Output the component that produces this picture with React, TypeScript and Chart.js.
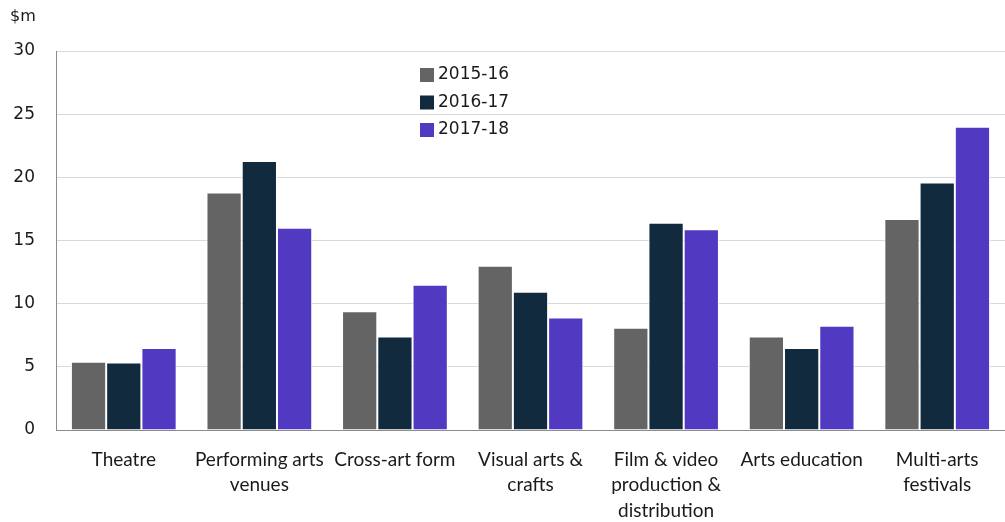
import React, { useEffect, useRef } from "react";
import { Chart, registerables } from "chart.js";

Chart.register(...registerables);

const categories: (string | string[])[] = [
  "Theatre",
  ["Performing arts", "venues"],
  "Cross-art form",
  ["Visual arts &", "crafts"],
  ["Film & video", "production &", "distribution"],
  "Arts education",
  ["Multi-arts", "festivals"],
];
const seriesLabels = ["2015-16", "2016-17", "2017-18"];
const values2015 = [5.4, 18.8, 9.4, 13.0, 8.1, 7.4, 16.7];
const values2016 = [5.35, 21.3, 7.4, 10.95, 16.4, 6.5, 19.6];
const values2017 = [6.5, 16.0, 11.5, 8.9, 15.9, 8.25, 24.0];
const colors = ["#646464", "#122a3d", "#5139c2"];
const yTicks = [0, 5, 10, 15, 20, 25, 30];
const unitLabel = "$m";

const overlayPlugin = {
  id: "overlay",
  afterDraw(chart: any) {
    const ctx = chart.ctx;
    ctx.save();
    ctx.font = "16px 'DejaVu Sans'";
    ctx.fillStyle = "#1a1a1a";
    ctx.textBaseline = "middle";
    ctx.textAlign = "left";
    ctx.fillText(unitLabel, 10, 17);
    ctx.font = "17px 'DejaVu Sans'";
    const x0 = 420;
    const y0 = 75;
    const step = 27.5;
    chart.data.datasets.forEach((ds: any, i: number) => {
      const y = y0 + i * step;
      ctx.fillStyle = ds.backgroundColor;
      ctx.fillRect(x0, y - 7, 14, 14);
      ctx.fillStyle = "#1a1a1a";
      ctx.fillText(ds.label, x0 + 18, y);
    });
    ctx.restore();
  },
};

export default function App() {
  const ref = useRef<HTMLCanvasElement>(null);
  useEffect(() => {
    if (!ref.current) return;
    const data = [values2015, values2016, values2017];
    const chart = new Chart(ref.current, {
      type: "bar",
      data: {
        labels: categories,
        datasets: seriesLabels.map((l, i) => ({
          label: l,
          data: data[i],
          backgroundColor: colors[i],
          borderColor: "#ffffff",
          borderWidth: 1,
          categoryPercentage: 0.78,
          barPercentage: 1,
        })),
      },
      options: {
        animation: false,
        responsive: true,
        maintainAspectRatio: false,
        layout: { padding: { top: 51, right: 0, left: 0, bottom: 0 } },
        plugins: {
          legend: { display: false },
          tooltip: { enabled: false },
        },
        scales: {
          x: {
            grid: { display: false, drawTicks: false },
            border: { display: true, color: "#8c8c8c", width: 1 },
            ticks: {
              autoSkip: false,
              maxRotation: 0,
              padding: 17,
              color: "#1a1a1a",
              font: { family: "Lato", size: 19, lineHeight: 1.34 },
            },
            afterFit(scale: any) {
              scale.height = 92;
            },
          },
          y: {
            min: 0,
            max: 30,
            afterBuildTicks(scale: any) {
              scale.ticks = yTicks.map((v) => ({ value: v }));
            },
            grid: { color: "#d9d9d9", lineWidth: 1, drawTicks: false },
            border: { display: true, color: "#8c8c8c", width: 1 },
            ticks: {
              padding: 21,
              color: "#1a1a1a",
              font: { family: "DejaVu Sans", size: 17 },
            },
            afterFit(scale: any) {
              scale.width = 56;
            },
          },
        },
      },
      plugins: [overlayPlugin],
    });
    return () => chart.destroy();
  }, []);
  return (
    <div style={{ position: "absolute", left: 0, top: 0, width: 1005, height: 522, background: "#fff" }}>
      <canvas ref={ref} />
    </div>
  );
}
